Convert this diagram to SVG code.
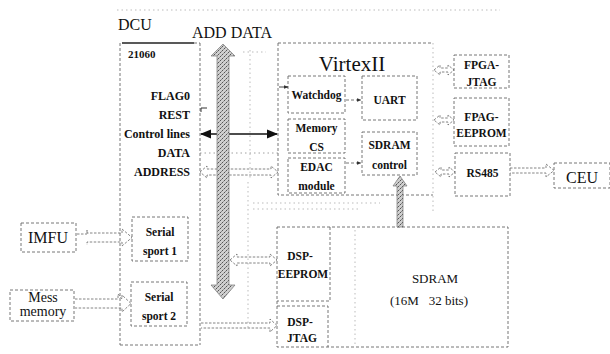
<svg xmlns="http://www.w3.org/2000/svg" width="610" height="354" viewBox="0 0 610 354">
<style>
.bx{fill:none;stroke:#666;stroke-width:0.9;stroke-dasharray:3 2}
.fa{fill:none;stroke:#aaa;stroke-width:0.8;stroke-dasharray:1.5 3}
.ha{fill:none;stroke:#666;stroke-width:0.8;stroke-dasharray:2.5 1.5}
.t{font-family:"Liberation Serif","Times New Roman",serif;fill:#111}
.b{font-weight:bold;font-size:12px}
.s{font-weight:bold;font-size:11.5px;text-anchor:middle}
.m{text-anchor:middle}
.e{text-anchor:end}
</style>
<defs>
<pattern id="stip" width="4" height="4" patternUnits="userSpaceOnUse">
<rect width="4" height="4" fill="#cfcfcf"/>
<rect x="0" y="0" width="1" height="1" fill="#555"/>
<rect x="2" y="2" width="1" height="1" fill="#555"/>
<rect x="1" y="3" width="1" height="1" fill="#888"/>
<rect x="3" y="1" width="1" height="1" fill="#999"/>
</pattern>
<marker id="ah" viewBox="0 0 10 10" refX="9" refY="5" markerWidth="7" markerHeight="7" orient="auto-start-reverse">
<path d="M0,1 L10,5 L0,9 z" fill="#111"/>
</marker>
<marker id="sa" viewBox="0 0 10 10" refX="9" refY="5" markerWidth="5" markerHeight="5" orient="auto">
<path d="M0,1 L10,5 L0,9 z" fill="#333"/>
</marker>
</defs>
<rect width="610" height="354" fill="#fff"/>

<!-- faint background lines -->
<g id="faint">
<line class="fa" x1="117" y1="10" x2="500" y2="10"/>
<line class="fa" x1="250" y1="50" x2="250" y2="180"/>
<line class="fa" x1="243" y1="52" x2="266" y2="52"/>
<line class="fa" x1="253" y1="203" x2="380" y2="203"/>
<line class="fa" x1="253" y1="209" x2="360" y2="209"/>
<line class="fa" x1="248" y1="182" x2="248" y2="330"/>
<line class="fa" x1="355" y1="230" x2="355" y2="347"/>
<line class="fa" x1="433" y1="43" x2="433" y2="212"/>
</g>

<!-- DCU -->
<g id="dcu">
<text class="t" x="118" y="30" font-size="16">DCU</text>
<line x1="122" y1="43" x2="194" y2="43" stroke="#222" stroke-width="1.3"/>
<line class="bx" x1="194" y1="43" x2="200" y2="43"/>
<line class="bx" x1="120" y1="43" x2="120" y2="345"/>
<line class="bx" x1="200" y1="43" x2="200" y2="345"/>
<line class="bx" x1="120" y1="345" x2="200" y2="345"/>
<text class="t" x="128" y="58" font-size="11" font-weight="bold">21060</text>
<text class="t b e" x="190" y="100">FLAG0</text>
<text class="t b e" x="190" y="119">REST</text>
<text class="t b e" x="190" y="138">Control lines</text>
<text class="t b e" x="190" y="157">DATA</text>
<text class="t b e" x="190" y="176">ADDRESS</text>
</g>
<g id="sport1">
<rect class="bx" x="132" y="217" width="56" height="44"/>
<text class="t s" x="160" y="236">Serial</text>
<text class="t s" x="160" y="255">sport 1</text>
</g>
<g id="sport2">
<rect class="bx" x="131" y="282" width="56" height="44"/>
<text class="t s" x="159" y="301">Serial</text>
<text class="t s" x="159" y="320">sport 2</text>
</g>
<g id="imfu">
<rect class="bx" x="21" y="223" width="55" height="29"/>
<text class="t m" x="48" y="243" font-size="16">IMFU</text>
</g>
<g id="mess">
<rect class="bx" x="10" y="290" width="64" height="31"/>
<text class="t m" x="43" y="302" font-size="14">Mess</text>
<text class="t m" x="43" y="316" font-size="14">memory</text>
</g>

<text class="t" x="192" y="38" font-size="16">ADD DATA</text>

<!-- VirtexII -->
<g id="virtex">
<path class="bx" d="M278,43 H433 M278,43 V195 H433"/>
<text class="t m" x="352" y="71" font-size="21">VirtexII</text>
</g>
<g id="watchdog">
<rect class="bx" x="288" y="76" width="57" height="37"/>
<text class="t s" x="316.5" y="99">Watchdog</text>
</g>
<g id="memcs">
<rect class="bx" x="288" y="119" width="57" height="34"/>
<text class="t s" x="316.5" y="132">Memory</text>
<text class="t s" x="316.5" y="151">CS</text>
</g>
<g id="edac">
<rect class="bx" x="288" y="158" width="57" height="35"/>
<text class="t s" x="316.5" y="171">EDAC</text>
<text class="t s" x="316.5" y="190">module</text>
</g>
<g id="uart">
<rect class="bx" x="362" y="76" width="55" height="44"/>
<text class="t s" x="389.5" y="104">UART</text>
</g>
<g id="sdramctl">
<rect class="bx" x="362" y="132" width="55" height="43"/>
<text class="t s" x="389.5" y="149">SDRAM</text>
<text class="t s" x="389.5" y="169">control</text>
</g>

<!-- right side -->
<g id="fpgajtag">
<rect class="bx" x="454" y="55" width="55" height="33"/>
<text class="t s" x="481.5" y="69">FPGA-</text>
<text class="t s" x="481.5" y="86">JTAG</text>
</g>
<g id="fpageeprom">
<rect class="bx" x="454" y="98" width="55" height="48"/>
<text class="t s" x="481.5" y="121">FPAG-</text>
<text class="t s" x="481.5" y="137">EEPROM</text>
</g>
<g id="rs485">
<rect class="bx" x="455" y="153" width="55" height="43"/>
<text class="t s" x="482.5" y="177">RS485</text>
</g>
<g id="ceu">
<rect class="bx" x="554" y="163" width="56" height="25"/>
<text class="t m" x="582" y="183" font-size="16">CEU</text>
</g>

<!-- SDRAM area -->
<g id="sdram">
<path class="bx" d="M277,227 H508 V347 H277 Z"/>
<text class="t m" x="435" y="283" font-size="13">SDRAM</text>
<text class="t m" x="429" y="305" font-size="13" xml:space="preserve">(16M   32 bits)</text>
</g>
<g id="dspeeprom">
<path class="bx" d="M330,227 V301 H277"/>
<text class="t s" x="300" y="260">DSP-</text>
<text class="t s" x="303" y="278">EEPROM</text>
</g>
<g id="dspjtag">
<path class="bx" d="M277,306 H328 V347"/>
<text class="t s" x="300" y="326">DSP-</text>
<text class="t s" x="302" y="342">JTAG</text>
</g>

<!-- connectors -->
<g id="connectors">
<polygon class="ha" points="200,172 207,166 207,169 271,169 271,166 278,172 271,178 271,175 207,175 207,178"/>
<polygon class="ha" points="230,260 237,254 237,257 270,257 270,254 277,260 270,266 270,263 237,263 237,266"/>
<polyline class="ha" points="201,323 270,323 270,319 277,325.5 270,332 270,328 201,328"/>
<polyline class="ha" points="77,234 87,234 87,230 87,233 122,233 122,229 132,237.5 122,246 122,242 87,242 87,245"/>
<polyline class="ha" points="75,299 118,299 118,294 122,299 122,295 131,303.5 122,312 122,308 75,308"/>
<polyline class="ha" points="510,168 546,168 546,164 554,170.5 546,177 546,173 510,173"/>
<polygon class="ha" points="434,70 440,65 440,68 448,68 448,65 454,70 448,75 448,72 440,72 440,75"/>
<polygon class="ha" points="434,120 440,115 440,118 448,118 448,115 454,120 448,125 448,122 440,122 440,125"/>
<polygon class="ha" points="435,172 441,167 441,170 449,170 449,167 455,172 449,177 449,174 441,174 441,177"/>
<line class="fa" x1="200" y1="153" x2="278" y2="153" style="stroke:#888"/>
<line x1="201" y1="134" x2="277" y2="134" stroke="#111" stroke-width="1.6" marker-start="url(#ah)" marker-end="url(#ah)"/>
<path d="M201,112 V108 H207" fill="none" stroke="#333" stroke-width="1"/>
<line x1="279" y1="87" x2="288" y2="87" stroke="#333" stroke-width="0.9" marker-end="url(#sa)"/>
<line class="bx" x1="346" y1="100" x2="361" y2="100" marker-end="url(#sa)"/>
<line class="bx" x1="346" y1="163" x2="361" y2="163" marker-end="url(#sa)"/>
<polygon points="223,44 235,56 229,56 229,285 235,285 223,299 211,285 217,285 217,56 211,56" fill="url(#stip)" stroke="#777" stroke-width="0.7"/>
<polygon points="400,176 407,186 403,186 403,227 397,227 397,186 393,186" fill="url(#stip)" stroke="#777" stroke-width="0.7"/>
</g>
</svg>
